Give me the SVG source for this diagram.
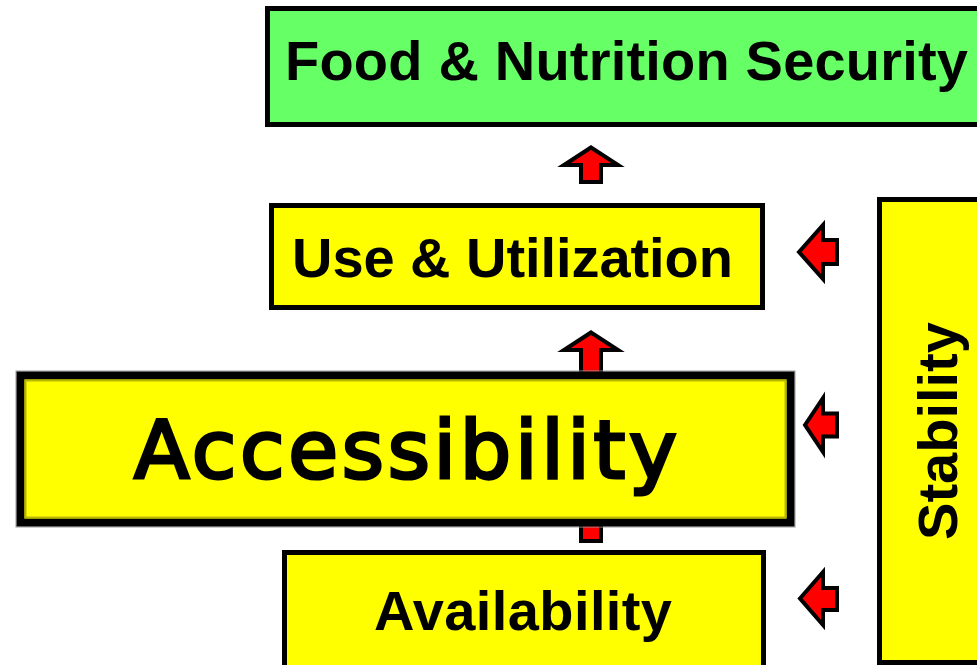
<svg xmlns="http://www.w3.org/2000/svg" width="977" height="665" viewBox="0 0 977 665">
<style>
.box{stroke:#000;stroke-width:5}
.y{fill:#FFFF00}
.g{fill:#66FF66}
.lbl{font-family:"Liberation Sans",Arial,sans-serif;font-weight:bold;font-size:56px;fill:#000}
.arr{fill:#FF0000;stroke:#000;stroke-width:4;stroke-linejoin:miter}
</style>
<rect width="977" height="665" fill="#fff"/>
<g id="food-nutrition-security">
<rect class="box g" x="267.5" y="8.5" width="720" height="116"/>
<text class="lbl" x="285" y="80" textLength="683" lengthAdjust="spacing">Food &amp; Nutrition Security</text>
</g>
<g id="use-utilization">
<rect class="box y" x="271.5" y="205.5" width="491" height="102"/>
<text class="lbl" x="292" y="277" textLength="441" lengthAdjust="spacing">Use &amp; Utilization</text>
</g>
<g id="availability">
<rect class="box y" x="284.5" y="552.5" width="479" height="130"/>
<text class="lbl" x="374" y="630" textLength="298" lengthAdjust="spacing">Availability</text>
</g>
<g id="stability">
<rect class="box y" x="879.5" y="199.5" width="120" height="463"/>
<text class="lbl" x="957" y="431" text-anchor="middle" transform="rotate(-90 957 431)">Stability</text>
</g>
<g id="connectors">
<path class="arr" d="M591,147.5 L618,165 L601,165 L601,182 L581,182 L581,165 L564,165 Z"/>
<path class="arr" d="M591,332.5 L618,350 L601,350 L601,541 L581,541 L581,350 L564,350 Z"/>
<path class="arr" d="M799,252 L823,225 L823,240 L837,240 L837,264 L823,264 L823,279 Z"/>
<path class="arr" d="M805,425 L823,398 L823,413.5 L837,413.5 L837,436.5 L823,436.5 L823,452 Z"/>
<path class="arr" d="M800,598.5 L823,572 L823,588 L837,588 L837,610 L823,610 L823,625 Z"/>
</g>
<g id="accessibility">
<rect x="16" y="371" width="779" height="156" fill="none" stroke="#999" stroke-width="1"/>
<rect x="20.5" y="375.5" width="770" height="147" fill="#FFFF00" stroke="#000" stroke-width="8"/>
<rect x="25.5" y="380.5" width="760" height="137" fill="none" stroke="#B8B800" stroke-width="2"/>
<text x="405.5" y="478" text-anchor="middle" font-family="'DejaVu Sans',Verdana,sans-serif" font-size="81" textLength="543" lengthAdjust="spacing" fill="#000" stroke="#000" stroke-width="3.2">Accessibility</text>
</g>
</svg>
